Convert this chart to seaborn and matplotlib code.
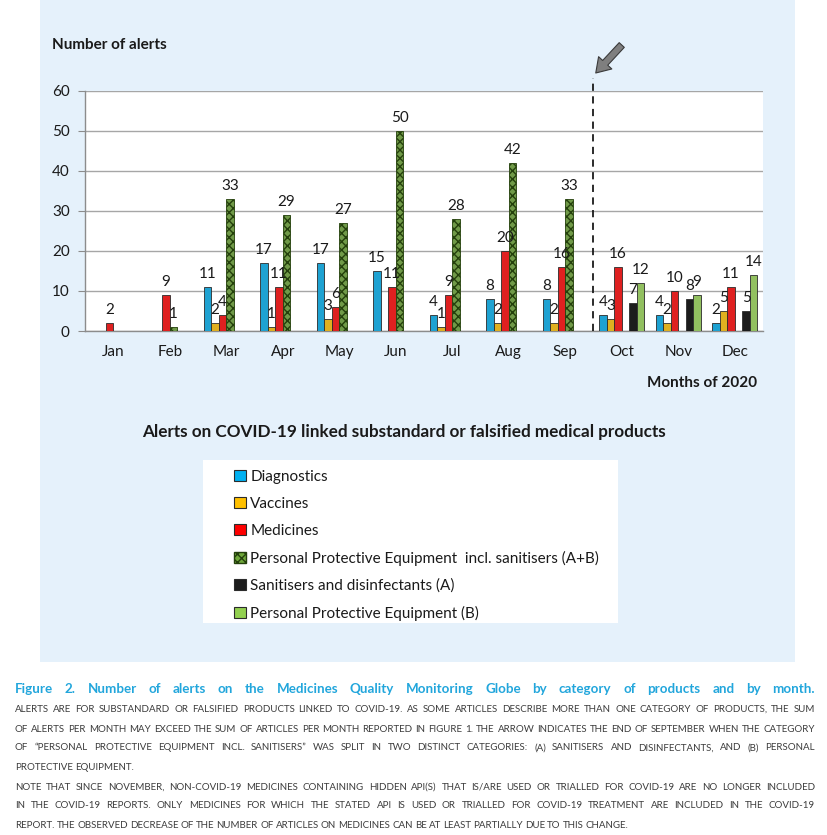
import pandas as pd
import matplotlib
matplotlib.use('Agg')
import matplotlib.pyplot as plt
from matplotlib.patches import Rectangle, Patch
import seaborn as sns

months = ['Jan', 'Feb', 'Mar', 'Apr', 'May', 'Jun', 'Jul', 'Aug', 'Sep', 'Oct', 'Nov', 'Dec']
categories = ['Diagnostics', 'Vaccines', 'Medicines',
              'Personal Protective Equipment  incl. sanitisers (A+B)',
              'Sanitisers and disinfectants (A)',
              'Personal Protective Equipment (B)']

diagnostics = [0, 0, 11, 17, 17, 15, 4, 8, 8, 4, 4, 2]
vaccines = [0, 0, 2, 1, 3, 0, 1, 2, 2, 3, 2, 5]
medicines = [2, 9, 4, 11, 6, 11, 9, 20, 16, 16, 10, 11]
ppe_ab = [0, 1, 33, 29, 27, 50, 28, 42, 33, 0, 0, 0]
sanitisers_a = [0, 0, 0, 0, 0, 0, 0, 0, 0, 7, 8, 5]
ppe_b = [0, 0, 0, 0, 0, 0, 0, 0, 0, 12, 9, 14]

colors = ['#00b0f0', '#ffc000', '#ff0000', '#6fa83a', '#1c1c1c', '#92d050']

series = [diagnostics, vaccines, medicines, ppe_ab, sanitisers_a, ppe_b]
rows = []
for cat, vals in zip(categories, series):
    for m, v in zip(months, vals):
        if v > 0:
            rows.append({'month': m, 'category': cat, 'alerts': v})
df = pd.DataFrame(rows)

sns.set_style('white')
plt.rcParams['font.family'] = ['Lato', 'DejaVu Sans']
plt.rcParams['hatch.linewidth'] = 1.0

W, H = 828, 835
fig = plt.figure(figsize=(W / 100, H / 100), dpi=100)
fig.patch.set_facecolor('white')

# light blue panel behind the chart
fig.patches.append(Rectangle((40 / W, 1 - 662 / H), 755 / W, 662 / H,
                             transform=fig.transFigure, facecolor='#e5f1fb',
                             edgecolor='none', zorder=-5))

ax = fig.add_axes([85 / W, 1 - 331 / H, 678 / W, 240 / H])
ax.set_facecolor('white')

sns.barplot(data=df, x='month', y='alerts', hue='category', order=months,
            hue_order=categories, palette=dict(zip(categories, colors)),
            width=0.8, errorbar=None, edgecolor='#2b2b2b', linewidth=0.6,
            legend=False, ax=ax, zorder=3)

# checkered PPE bars
for p in ax.containers[3]:
    p.set_hatch('xxxx')
    p.set_edgecolor('#24400c')

for c in ax.containers:
    ax.bar_label(c, fmt='%g', padding=4, fontsize=11, color='#1a1a1a')

ax.set_ylim(0, 60)
ax.set_yticks(range(0, 61, 10))
ax.set_xlim(-0.5, len(months) - 0.5)
ax.set_xticks([i - 0.5 for i in range(len(months) + 1)], minor=True)
ax.tick_params(axis='x', which='major', length=0, labelsize=11, pad=10, colors='#1a1a1a')
ax.tick_params(axis='x', which='minor', length=5, color='#8c8c8c', width=1)
ax.tick_params(axis='y', which='major', length=5, color='#8c8c8c', labelsize=11,
               pad=6, labelcolor='#1a1a1a', left=True)
ax.grid(axis='y', color='#a6a6a6', linewidth=1, zorder=0)
ax.set_axisbelow(True)
for s in ['top', 'right']:
    ax.spines[s].set_visible(False)
for s in ['left', 'bottom']:
    ax.spines[s].set_color('#8c8c8c')
    ax.spines[s].set_linewidth(1)
ax.set_xlabel('')
ax.set_ylabel('')

# split marker between Sep and Oct
split = months.index('Oct') - 0.5
ax.plot([split, split], [0, 63.3], ls=(0, (4, 3)), color='#1a1a1a', lw=1.3,
        clip_on=False, zorder=4)
ax.annotate('', xy=(split + 0.04, 64.5), xytext=(split + 0.5, 71.5),
            arrowprops=dict(facecolor='#7f7f7f', edgecolor='#3a3a3a', lw=0.8,
                            width=5, headwidth=13, headlength=10),
            annotation_clip=False)

fig.text(52 / W, 1 - 45 / H, 'Number of alerts', fontsize=11, fontweight='bold',
         va='center', ha='left', color='#1a1a1a')
fig.text(757 / W, 1 - 383 / H, 'Months of 2020', fontsize=11, fontweight='bold',
         va='center', ha='right', color='#1a1a1a')
fig.text(404 / W, 1 - 432 / H,
         'Alerts on COVID-19 linked substandard or falsified medical products',
         fontsize=12.3, fontweight='bold', va='center', ha='center', color='#1a1a1a')

# legend box
fig.patches.append(Rectangle((203 / W, 1 - 623 / H), 415 / W, 163 / H,
                             transform=fig.transFigure, facecolor='white',
                             edgecolor='none', zorder=-4))
handles = []
for cat, col in zip(categories, colors):
    if cat.startswith('Personal Protective Equipment  incl'):
        handles.append(Patch(facecolor=col, edgecolor='#24400c', hatch='xxxx', label=cat))
    else:
        handles.append(Patch(facecolor=col, edgecolor='#2b2b2b', linewidth=0.8, label=cat))
fig.legend(handles=handles, loc='upper left', bbox_to_anchor=(228 / W, 1 - 464 / H),
           frameon=False, fontsize=11, handlelength=0.75, handleheight=0.75,
           handletextpad=0.3, labelspacing=0.84, borderaxespad=0, labelcolor='#1a1a1a')

# caption
caption_head = 'Figure 2. Number of alerts on the Medicines Quality Monitoring Globe by category of products and by month.'
caption_lines = [
    'ALERTS ARE FOR SUBSTANDARD OR FALSIFIED PRODUCTS LINKED TO COVID-19. AS SOME ARTICLES DESCRIBE MORE THAN ONE CATEGORY OF PRODUCTS, THE SUM',
    'OF ALERTS PER MONTH MAY EXCEED THE SUM OF ARTICLES PER MONTH REPORTED IN FIGURE 1. THE ARROW INDICATES THE END OF SEPTEMBER WHEN THE CATEGORY',
    'OF \u201cPERSONAL PROTECTIVE EQUIPMENT INCL. SANITISERS\u201d WAS SPLIT IN TWO DISTINCT CATEGORIES: (A) SANITISERS AND DISINFECTANTS, AND (B) PERSONAL',
    'PROTECTIVE EQUIPMENT.',
    'NOTE THAT SINCE NOVEMBER, NON-COVID-19 MEDICINES CONTAINING HIDDEN API(S) THAT IS/ARE USED OR TRIALLED FOR COVID-19 ARE NO LONGER INCLUDED',
    'IN THE COVID-19 REPORTS. ONLY MEDICINES FOR WHICH THE STATED API IS USED OR TRIALLED FOR COVID-19 TREATMENT ARE INCLUDED IN THE COVID-19',
    'REPORT. THE OBSERVED DECREASE OF THE NUMBER OF ARTICLES ON MEDICINES CAN BE AT LEAST PARTIALLY DUE TO THIS CHANGE.',
]
caption_y = [709, 729, 748, 768, 787, 806, 825]
caption_full = [True, True, True, False, True, True, False]

renderer = fig.canvas.get_renderer()


def place_line(text, y, fs, color, weight='normal', full=True, x0=15, x1=815):
    words = text.split(' ')
    arts = [fig.text(0, 1 - y / H, w, fontsize=fs, color=color, fontweight=weight,
                     va='center', ha='left') for w in words]
    widths = [a.get_window_extent(renderer).width for a in arts]
    space = fs * 0.3
    if full and len(words) > 1:
        gap = (x1 - x0 - sum(widths)) / (len(words) - 1)
    else:
        gap = space
    x = x0
    for a, w in zip(arts, widths):
        a.set_x(x / W)
        x += w + gap


place_line(caption_head, 689, 9.6, '#22a6dc', weight='bold')
for txt, y, full in zip(caption_lines, caption_y, caption_full):
    place_line(txt, y, 7.05, '#3c3c3c', full=full)

fig.savefig('out.png', dpi=100, facecolor='white')
